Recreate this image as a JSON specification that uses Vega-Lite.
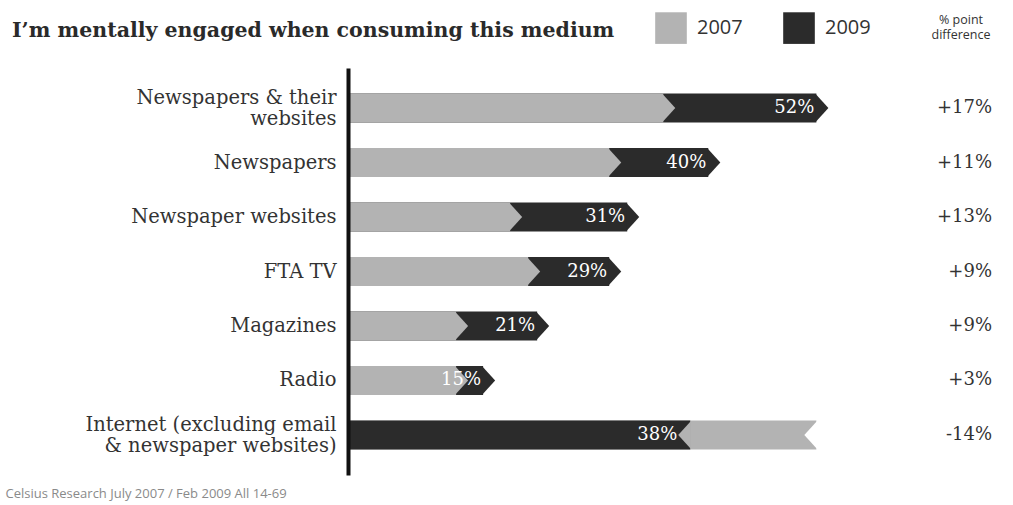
{
  "$schema": "https://vega.github.io/schema/vega-lite/v6.json",
  "width": 644,
  "height": 407,
  "autosize": {"type": "none"},
  "padding": {"left": 348, "top": 68, "right": 21, "bottom": 30},
  "background": "white",
  "title": {
    "text": "I’m mentally engaged when consuming this medium",
    "anchor": "start",
    "frame": "group",
    "dx": -336,
    "dy": 29,
    "offset": 0,
    "font": "DejaVu Serif",
    "fontSize": 20.5,
    "fontWeight": "bold",
    "color": "#2a2a2a"
  },
  "config": {
    "view": {"stroke": null},
    "font": "Open Sans"
  },
  "data": {
    "values": [
      {"medium": "Newspapers & their websites", "year": "2009", "value": 52, "pct": "52%", "diff": "+17%", "change": 17},
      {"medium": "Newspapers & their websites", "year": "2007", "value": 35, "pct": "35%", "diff": "+17%", "change": 17},
      {"medium": "Newspapers", "year": "2009", "value": 40, "pct": "40%", "diff": "+11%", "change": 11},
      {"medium": "Newspapers", "year": "2007", "value": 29, "pct": "29%", "diff": "+11%", "change": 11},
      {"medium": "Newspaper websites", "year": "2009", "value": 31, "pct": "31%", "diff": "+13%", "change": 13},
      {"medium": "Newspaper websites", "year": "2007", "value": 18, "pct": "18%", "diff": "+13%", "change": 13},
      {"medium": "FTA TV", "year": "2009", "value": 29, "pct": "29%", "diff": "+9%", "change": 9},
      {"medium": "FTA TV", "year": "2007", "value": 20, "pct": "20%", "diff": "+9%", "change": 9},
      {"medium": "Magazines", "year": "2009", "value": 21, "pct": "21%", "diff": "+9%", "change": 9},
      {"medium": "Magazines", "year": "2007", "value": 12, "pct": "12%", "diff": "+9%", "change": 9},
      {"medium": "Radio", "year": "2009", "value": 15, "pct": "15%", "diff": "+3%", "change": 3},
      {"medium": "Radio", "year": "2007", "value": 12, "pct": "12%", "diff": "+3%", "change": 3},
      {"medium": "Internet (excluding email & newspaper websites)", "year": "2007", "value": 52, "pct": "52%", "diff": "-14%", "change": -14},
      {"medium": "Internet (excluding email & newspaper websites)", "year": "2009", "value": 38, "pct": "38%", "diff": "-14%", "change": -14}
    ]
  },
  "encoding": {
    "y": {
      "field": "medium",
      "type": "nominal",
      "sort": ["Newspapers & their websites", "Newspapers", "Newspaper websites", "FTA TV", "Magazines", "Radio", "Internet (excluding email & newspaper websites)"],
      "scale": {"paddingInner": 0.47, "paddingOuter": 0.47},
      "axis": {
        "title": null,
        "ticks": false,
        "domainColor": "#111111",
        "domainWidth": 4,
        "zindex": 2,
        "labelFont": "DejaVu Serif",
        "labelFontSize": 19.5,
        "labelColor": "#333333",
        "labelPadding": 12,
        "labelLimit": 400,
        "labelLineHeight": 21,
        "labelOffset": {"condition": {"test": "datum.value == 'Newspapers & their websites' || datum.value == 'Internet (excluding email & newspaper websites)'", "value": -10}, "value": 0},
        "labelExpr": "datum.label == 'Newspapers & their websites' ? ['Newspapers & their', 'websites'] : datum.label == 'Internet (excluding email & newspaper websites)' ? ['Internet (excluding email', '& newspaper websites)'] : datum.label"
      }
    }
  },
  "layer": [
    {
      "mark": {"type": "bar", "opacity": 1},
      "encoding": {
        "x": {
          "field": "value",
          "type": "quantitative",
          "stack": null,
          "scale": {"domain": [0, 71.5], "nice": false},
          "axis": {
            "grid": false,
            "domain": false,
            "ticks": false,
            "labels": false,
            "title": "Celsius Research July 2007 / Feb 2009 All 14-69",
            "titleX": -343,
            "titleY": 18,
            "titleAlign": "left",
            "titleBaseline": "middle",
            "titleFont": "Open Sans",
            "titleFontSize": 13,
            "titleFontWeight": "normal",
            "titleColor": "#8a8a8a"
          }
        },
        "color": {
          "field": "year",
          "type": "nominal",
          "scale": {"domain": ["2007", "2009"], "range": ["#b3b3b3", "#2b2b2b"]},
          "legend": {
            "orient": "none",
            "legendX": 307,
            "legendY": -56,
            "direction": "horizontal",
            "symbolType": "square",
            "symbolSize": 1000,
            "symbolStrokeWidth": 0,
            "symbolOpacity": 1,
            "labelFont": "Open Sans",
            "labelFontSize": 20,
            "labelColor": "#333333",
            "labelOffset": 10,
            "columnPadding": 40,
            "title": ["% point", "difference"],
            "titleOrient": "right",
            "titleFont": "Open Sans",
            "titleFontSize": 12.5,
            "titleFontWeight": "normal",
            "titleColor": "#333333",
            "titleLineHeight": 15,
            "titlePadding": 90,
            "titleAlign": "center"
          }
        },
        "order": {"field": "value", "sort": "descending"}
      }
    },
    {
      "transform": [{"filter": "datum.year == '2009' && datum.change > 0"}],
      "mark": {"type": "point", "shape": "M-0.05,-1L0.86,0L-0.05,1Z", "filled": true, "size": 784, "color": "#2b2b2b", "opacity": 1, "strokeWidth": 0},
      "encoding": {"x": {"field": "value", "type": "quantitative"}}
    },
    {
      "transform": [{"filter": "datum.year == '2007' && datum.change > 0"}],
      "mark": {"type": "point", "shape": "M-0.05,-1L0.86,0L-0.05,1Z", "filled": true, "size": 784, "color": "#b3b3b3", "opacity": 1, "strokeWidth": 0},
      "encoding": {"x": {"field": "value", "type": "quantitative"}}
    },
    {
      "transform": [{"filter": "datum.year == '2009' && datum.change < 0"}],
      "mark": {"type": "point", "shape": "M0.05,-1L-0.86,0L0.05,1Z", "filled": true, "size": 784, "color": "#b3b3b3", "opacity": 1, "strokeWidth": 0},
      "encoding": {"x": {"field": "value", "type": "quantitative"}}
    },
    {
      "transform": [{"filter": "datum.year == '2007' && datum.change < 0"}],
      "mark": {"type": "point", "shape": "M0.1,-1.05L-0.86,0L0.1,1.05Z", "filled": true, "size": 784, "color": "#ffffff", "opacity": 1, "strokeWidth": 0},
      "encoding": {"x": {"field": "value", "type": "quantitative"}}
    },
    {
      "transform": [{"filter": "datum.year == '2009' && datum.change > 0"}],
      "mark": {"type": "text", "align": "right", "baseline": "middle", "dx": -2, "font": "DejaVu Serif", "fontSize": 18, "color": "#ffffff"},
      "encoding": {
        "x": {"field": "value", "type": "quantitative"},
        "text": {"field": "pct"}
      }
    },
    {
      "transform": [{"filter": "datum.year == '2009' && datum.change < 0"}],
      "mark": {"type": "text", "align": "right", "baseline": "middle", "dx": -13, "font": "DejaVu Serif", "fontSize": 18, "color": "#ffffff"},
      "encoding": {
        "x": {"field": "value", "type": "quantitative"},
        "text": {"field": "pct"}
      }
    },
    {
      "transform": [{"filter": "datum.year == '2009'"}],
      "mark": {"type": "text", "align": "right", "baseline": "middle", "font": "DejaVu Serif", "fontSize": 18, "color": "#333333"},
      "encoding": {
        "x": {"datum": 71.5},
        "text": {"field": "diff"}
      }
    }
  ]
}
